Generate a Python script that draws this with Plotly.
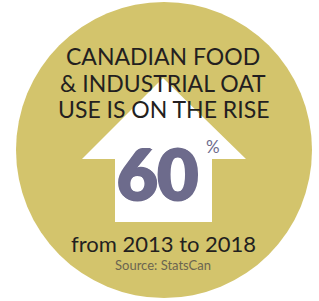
import plotly.graph_objects as go

# Data
headline_lines = ["CANADIAN FOOD", "& INDUSTRIAL OAT", "USE IS ON THE RISE"]
increase_pct = [60]
years = [2013, 2018]
source = ["Source: StatsCan"]

W, H = 319, 301
fig = go.Figure()

fig.add_trace(go.Scatter(x=[0, W], y=[0, H], mode="markers", marker=dict(opacity=0),
                         hoverinfo="skip", showlegend=False))

gold = "#D3C46C"
fig.add_shape(type="circle", xref="x", yref="y", x0=16, x1=312, y0=2, y1=298,
              fillcolor=gold, line=dict(width=0), layer="below")

arrow = "M 163 78 L 246 159 L 212 159 L 212 222 L 115 222 L 115 159 L 82 159 Z"
fig.add_shape(type="path", xref="x", yref="y", path=arrow, fillcolor="white",
              line=dict(width=0), layer="below")

font_main = "Lato, 'Open Sans', sans-serif"
for i, line in enumerate(headline_lines):
    fig.add_annotation(x=163, y=56 + i * 26.5, text=line, showarrow=False, xref="x", yref="y",
                       font=dict(family=font_main, size=23, color="#231f20", weight=400),
                       xanchor="center", yanchor="middle")

purple = "#6d6b8c"
fig.add_annotation(x=157, y=173, text=f"{increase_pct[0]}", showarrow=False, xref="x", yref="y",
                   font=dict(family=font_main, size=70, color=purple, weight=900,
                             shadow=f"1.5px 0 0 {purple}, -1.5px 0 0 {purple}, 0 1px 0 {purple}, 0 -1px 0 {purple}"),
                   xanchor="center", yanchor="middle")
fig.add_annotation(x=213, y=146, text="%", showarrow=False, xref="x", yref="y",
                   font=dict(family=font_main, size=17, color=purple, weight=400),
                   xanchor="center", yanchor="middle")

fig.add_annotation(x=163, y=243, text=f"from {years[0]} to {years[1]}", showarrow=False,
                   xref="x", yref="y",
                   font=dict(family=font_main, size=22, color="#231f20", weight=400),
                   xanchor="center", yanchor="middle")
fig.add_annotation(x=163, y=265, text=source[0], showarrow=False, xref="x", yref="y",
                   font=dict(family=font_main, size=13, color="#6b6550", weight=400),
                   xanchor="center", yanchor="middle")

fig.update_layout(
    width=W, height=H, margin=dict(l=0, r=0, t=0, b=0),
    paper_bgcolor="white", plot_bgcolor="white",
    xaxis=dict(range=[0, W], visible=False, fixedrange=True),
    yaxis=dict(range=[H, 0], visible=False, fixedrange=True),
    showlegend=False,
)

fig.write_html("out.html", config={"displayModeBar": False},
               post_script="document.body.style.margin='0';document.body.style.overflow='hidden';")
